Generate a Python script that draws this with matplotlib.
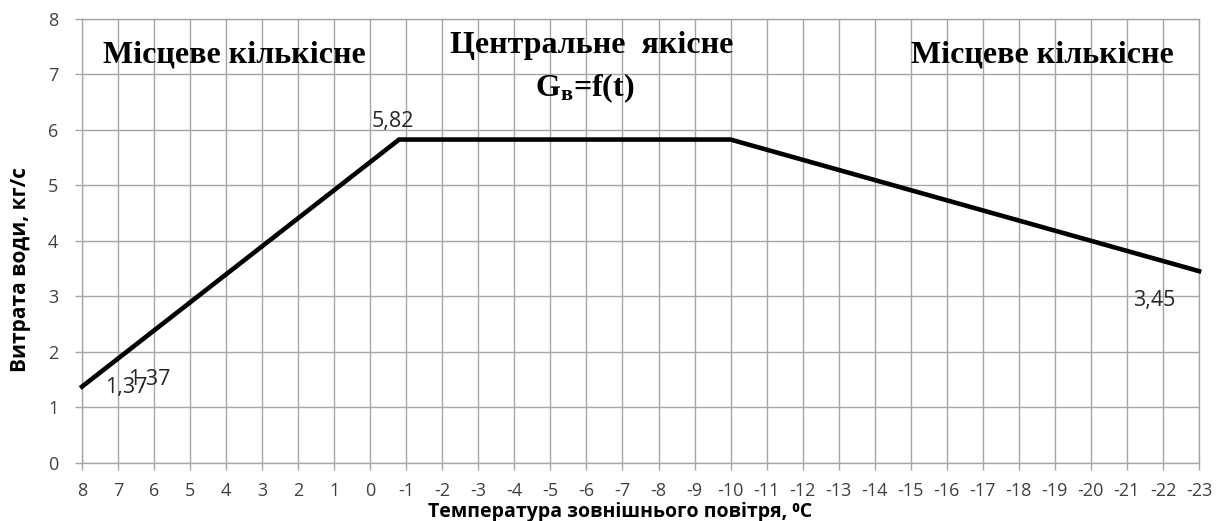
import matplotlib
matplotlib.use("Agg")
import matplotlib.pyplot as plt

plt.rcParams["mathtext.fontset"] = "custom"
plt.rcParams["mathtext.rm"] = "Liberation Serif:bold"
plt.rcParams["mathtext.bf"] = "Liberation Serif:bold"
plt.rcParams["mathtext.it"] = "Liberation Serif:bold"

# Data
temps = [8, -0.8, -10, -23]
flow = [1.37, 5.82, 5.82, 3.45]
x_ticks = list(range(8, -24, -1))
y_ticks = list(range(0, 9))

fig = plt.figure(figsize=(12.27, 5.21), dpi=100)
ax = fig.add_axes([82/1227, 1 - 462.7/521, (1199-82)/1227, (462.7-18.5)/521])

ax.plot(temps, flow, color="black", linewidth=3.3, solid_joinstyle="miter", zorder=3, clip_on=False)

ax.set_xlim(8, -23)
ax.set_ylim(0, 8)
ax.set_xticks(x_ticks)
ax.set_xticklabels([str(v) for v in x_ticks])
ax.set_yticks(y_ticks)
ax.set_yticklabels([str(v) for v in y_ticks])

grid_c = "#a6a6a6"
ax.grid(True, color=grid_c, linewidth=1.0)
ax.set_axisbelow(True)
for s in ax.spines.values():
    s.set_color(grid_c)
    s.set_linewidth(1.0)
ax.tick_params(axis="both", colors=grid_c, length=5, width=1.0, labelcolor="#404040",
               labelsize=13)
ax.tick_params(axis="x", pad=9)
ax.tick_params(axis="y", pad=12)
for lbl in ax.get_xticklabels() + ax.get_yticklabels():
    lbl.set_fontfamily(["Open Sans", "DejaVu Sans"])

# Data labels
lab_font = dict(fontsize=15.5, color="#262626", family=["Open Sans", "DejaVu Sans"])
ax.text(6.78, 1.35, "1,37", ha="center", va="center", **lab_font)
ax.text(6.13, 1.49, "1,37", ha="center", va="center", **lab_font)
ax.text(-0.63, 6.14, "5,82", ha="center", va="center", **lab_font)
ax.text(-21.75, 2.93, "3,45", ha="center", va="center", **lab_font)

# Region annotations
ann_font = dict(fontsize=23, fontweight="bold", color="black", family=["Liberation Serif", "DejaVu Serif"])
ax.text(7.42, 7.35, "Місцеве кількісне", ha="left", va="center", **ann_font)
ax.text(-6.15, 7.52, "Центральне  якісне", ha="center", va="center", **ann_font)
ax.text(-5.95, 6.74, r"G$_{\mathrm{в}}$=f(t)", ha="center", va="center", **ann_font)
ax.text(-15.0, 7.35, "Місцеве кількісне", ha="left", va="center", **ann_font)

fig.text(21/1227, 1 - 270/521, "Витрата води, кг/с", rotation=90, ha="center", va="center",
         fontsize=15, fontweight="bold", family=["Open Sans", "DejaVu Sans"])
fig.text(620/1227, 1 - 512/521, "Температура зовнішнього повітря, \u2070C", ha="center", va="center",
         fontsize=14, fontweight="bold", family=["Open Sans", "DejaVu Sans"])

fig.savefig("out.png", dpi=100)
